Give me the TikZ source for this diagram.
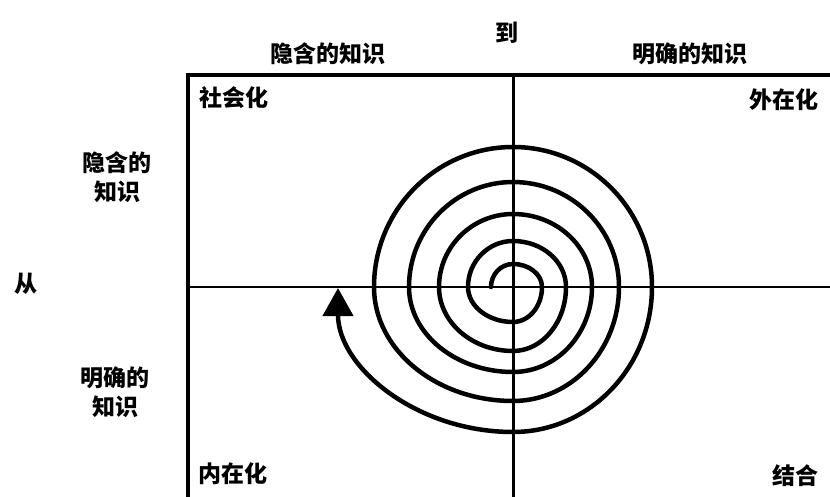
\documentclass[tikz,border=0pt]{standalone}
\usepackage{fontspec}
\newfontfamily\cjk{Noto Sans CJK SC}
\usetikzlibrary{arrows.meta}
\begin{document}
\begin{tikzpicture}[x=1pt,y=-1pt,
  lbl/.style={font=\cjk\bfseries\fontsize{23}{29}\selectfont, inner sep=0pt, align=center},
  frame/.style={line width=3.5pt, line join=miter},
  axisv/.style={line width=3pt},
  axish/.style={line width=2.5pt},
  spiral/.style={line width=4.5pt, line cap=round}]
\useasboundingbox (0,0) rectangle (830,497);
\fill[white] (0,0) rectangle (830,497);
% frame and axes
\draw[frame] (188,75) rectangle (845,515);
\draw[axisv] (513,75) -- (513,515);
\draw[axish] (188,287) -- (845,287);
% spiral
\begin{scope}[shift={(513,287)}]
\draw[spiral, -{Triangle[length=28pt,width=30pt]}]
  (-22,0)
  .. controls (-22,-12.7) and (-12.1,-23) .. (0,-23)
  .. controls (16.0,-23) and (29,-12.7) .. (29,0)
  .. controls (29,19.3) and (16.0,35) .. (0,35)
  .. controls (-24.8,35) and (-45,19.3) .. (-45,0)
  .. controls (-45,-25.4) and (-24.8,-46) .. (0,-46)
  .. controls (29.3,-46) and (53,-25.4) .. (53,0)
  .. controls (53,35.3) and (29.3,64) .. (0,64)
  .. controls (-40.8,64) and (-74,35.3) .. (-74,0)
  .. controls (-74,-40.3) and (-40.8,-73) .. (0,-73)
  .. controls (43.6,-73) and (79,-40.3) .. (79,0)
  .. controls (79,46.9) and (43.6,85) .. (0,85)
  .. controls (-57.4,85) and (-104,46.9) .. (-104,0)
  .. controls (-104,-58.0) and (-57.4,-105) .. (0,-105)
  .. controls (58.5,-105) and (106,-58.0) .. (106,0)
  .. controls (106,62.9) and (58.5,114) .. (0,114)
  .. controls (-76.7,114) and (-139,62.9) .. (-139,0)
  .. controls (-139,-77.3) and (-76.7,-140) .. (0,-140)
  .. controls (76.7,-140) and (139,-77.3) .. (139,0)
  .. controls (139,80.0) and (76.7,145) .. (0,145)
  .. controls (-96.6,145) and (-175,80.0) .. (-175,1);
\end{scope}
% labels
\node[lbl] (dao) at (507,33) {到};
\node[lbl] (htop) at (328,54) {隐含的知识};
\node[lbl] (etop) at (690,54) {明确的知识};
\node[lbl] (soc) at (234,98) {社会化};
\node[lbl] (ext) at (784,100) {外在化};
\node[lbl] (inn) at (233,474) {内在化};
\node[lbl] (com) at (795,476) {结合};
\node[lbl] (from) at (26,284) {从};
\node[lbl] (hleft) at (117,177) {隐含的\\知识};
\node[lbl] (eleft) at (115,392) {明确的\\知识};
\end{tikzpicture}
\end{document}
